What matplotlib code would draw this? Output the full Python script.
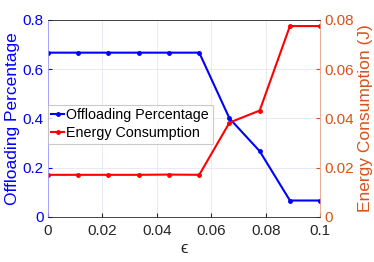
import matplotlib
matplotlib.use("Agg")
import matplotlib.pyplot as plt
import numpy as np

eps = [0, 0.0111, 0.0222, 0.0333, 0.0444, 0.0556, 0.0667, 0.0778, 0.0889, 0.1]
offload = [0.667, 0.667, 0.667, 0.667, 0.667, 0.667, 0.4, 0.267, 0.0667, 0.0667]
energy = [0.0171, 0.0171, 0.0171, 0.0171, 0.0172, 0.0171, 0.0383, 0.0432, 0.0775, 0.0775]

plt.rcParams['font.family'] = ['Liberation Sans', 'DejaVu Sans']
fig = plt.figure(figsize=(3.74, 2.62), dpi=100)
ax = fig.add_axes([0.128, 0.172, 0.728, 0.752])
ax2 = ax.twinx()

blue = '#0000FF'
red = '#FF0000'
orange = '#D95319'

l1, = ax.plot(eps, offload, color=blue, lw=1.5, marker='.', ms=5, label='Offloading Percentage')
l2, = ax2.plot(eps, energy, color=red, lw=1.5, marker='.', ms=5, label='Energy Consumption')

ax.set_xlim(0, 0.1)
ax.set_ylim(0, 0.8)
ax2.set_ylim(0, 0.08)
ax.set_xticks([0, 0.02, 0.04, 0.06, 0.08, 0.1])
ax.set_xticklabels(['0', '0.02', '0.04', '0.06', '0.08', '0.1'])
ax.set_yticks([0, 0.2, 0.4, 0.6, 0.8])
ax.set_yticklabels(['0', '0.2', '0.4', '0.6', '0.8'])
ax2.set_yticks([0, 0.02, 0.04, 0.06, 0.08])
ax2.set_yticklabels(['0', '0.02', '0.04', '0.06', '0.08'])

ax.grid(True, color='#E6E6F0', lw=0.6)
ax.tick_params(axis='x', colors='#262626', labelsize=11, direction='in', length=3, pad=5)
ax.tick_params(axis='y', colors=blue, labelsize=11, direction='in', length=3, pad=3)
ax2.tick_params(axis='y', colors=orange, labelsize=11, direction='in', length=3, pad=3)
for s in ['top', 'right', 'bottom', 'left']:
    ax.spines[s].set_visible(False)
    ax2.spines[s].set_visible(False)
ax2.spines['left'].set_visible(True)
ax2.spines['left'].set_color('#9999FF')
ax2.spines['right'].set_visible(True)
ax2.spines['right'].set_color('#E8A080')
ax2.spines['bottom'].set_visible(True)
ax2.spines['bottom'].set_color('#262626')
ax2.spines['top'].set_visible(True)
ax2.spines['top'].set_color('#262626')
for sp in ax2.spines.values():
    sp.set_linewidth(0.6)

ax.set_xlabel('ϵ', fontsize=12, color='#262626', labelpad=2)
ax.set_ylabel('Offloading Percentage', fontsize=12.5, color=blue, labelpad=2)
ax2.set_ylabel('Energy Consumption (J)', fontsize=12.5, color=orange, labelpad=3)

leg = ax2.legend(handles=[l1, l2], loc='center left', bbox_to_anchor=(0.0, 0.47),
                 fontsize=10.3, frameon=True, fancybox=False, borderpad=0.25,
                 handlelength=0.9, handletextpad=0.15, labelspacing=0.3, borderaxespad=0.0)
leg.get_frame().set_edgecolor('#BDBDBD')
leg.get_frame().set_linewidth(0.8)

fig.savefig('out.png', dpi=100)
